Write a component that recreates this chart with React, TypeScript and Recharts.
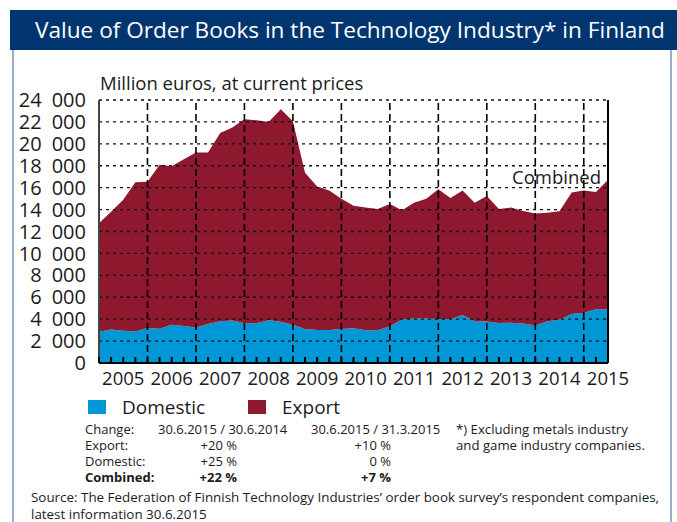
import { AreaChart, Area, XAxis, YAxis, ReferenceLine, Legend } from 'recharts';

const FONT = '"Open Sans", "Noto Sans", sans-serif';
const TEXT = '#1b1b1b';

// quarter-end observations, 31.12.2004 ... 30.6.2015
const quarterLabels = [
  '2004 Q4',
  '2005 Q1', '2005 Q2', '2005 Q3', '2005 Q4',
  '2006 Q1', '2006 Q2', '2006 Q3', '2006 Q4',
  '2007 Q1', '2007 Q2', '2007 Q3', '2007 Q4',
  '2008 Q1', '2008 Q2', '2008 Q3', '2008 Q4',
  '2009 Q1', '2009 Q2', '2009 Q3', '2009 Q4',
  '2010 Q1', '2010 Q2', '2010 Q3', '2010 Q4',
  '2011 Q1', '2011 Q2', '2011 Q3', '2011 Q4',
  '2012 Q1', '2012 Q2', '2012 Q3', '2012 Q4',
  '2013 Q1', '2013 Q2', '2013 Q3', '2013 Q4',
  '2014 Q1', '2014 Q2', '2014 Q3', '2014 Q4',
  '2015 Q1', '2015 Q2',
];

// million euros
const domesticValues = [
  2850,
  3050, 2950, 2880, 3200,
  3130, 3480, 3380, 3250,
  3550, 3800, 3880, 3620,
  3620, 3890, 3770, 3500,
  3110, 3010, 3010, 3100,
  3180, 2980, 2980, 3350,
  3960, 4050, 4050, 4020,
  3990, 4370, 3820, 3790,
  3640, 3680, 3600, 3420,
  3800, 3940, 4470, 4590,
  4900, 4900,
];

const exportValues = [
  9900,
  10750, 11950, 13620, 13350,
  14970, 14470, 15220, 15950,
  15650, 17200, 17620, 18630,
  18530, 18110, 19380, 18550,
  14240, 13090, 12740, 11900,
  11170, 11220, 11070, 11150,
  9990, 10580, 10930, 11830,
  11060, 11380, 10810, 11460,
  10410, 10500, 10280, 10220,
  9900, 9910, 11100, 11150,
  10700, 11800,
];

const yTicks = [0, 2000, 4000, 6000, 8000, 10000, 12000, 14000, 16000, 18000, 20000, 22000, 24000];

const series = [
  { key: 'domestic', name: 'Domestic', color: '#0097d7' },
  { key: 'export', name: 'Export', color: '#8e182e' },
];

const changeHeader = ['Change:', '30.6.2015 / 30.6.2014', '30.6.2015 / 31.3.2015'];
const changeRows = [
  { label: 'Export:', yearly: '+20 %', quarterly: '+10 %', bold: false },
  { label: 'Domestic:', yearly: '+25 %', quarterly: '0 %', bold: false },
  { label: 'Combined:', yearly: '+22 %', quarterly: '+7 %', bold: true },
];

const data = quarterLabels.map((label, i) => ({
  q: i,
  label,
  domestic: domesticValues[i],
  export: exportValues[i],
}));

const allQuarters = data.map(d => d.q);
const yearBoundaries = data.filter(d => d.label.endsWith('Q4') && d.q > 0).map(d => d.q);
const lastQuarter = allQuarters[allQuarters.length - 1];

// thousands separated by a wide space, as in the original
const formatY = (v: number) => (v === 0 ? '0' : `${v / 1000}\u2002000`);

// quarterly minor tick inside the plot + year label under mid-year
const QuarterTick = (props: any) => {
  const { x, y, payload } = props;
  const label: string = quarterLabels[payload.value] ?? '';
  const year = label.endsWith('Q2') ? label.slice(0, 4) : null;
  return (
    <g>
      <line x1={x} x2={x} y1={y} y2={y - 6} stroke="#000" strokeWidth={2} />
      {year && (
        <text x={x} y={y + 22} textAnchor="middle" fontSize={18.5} fill={TEXT} fontFamily={FONT}>
          {year}
        </text>
      )}
    </g>
  );
};

const LegendContent = () => (
  <div style={{ display: 'flex', fontFamily: FONT, fontSize: 19, color: TEXT }}>
    {series.map(s => (
      <div key={s.key} style={{ display: 'flex', alignItems: 'center', width: 160 }}>
        <span style={{ width: 18, height: 14, background: s.color, marginRight: 16 }} />
        <span>{s.name}</span>
      </div>
    ))}
  </div>
);

export default function App() {
  return (
    <div style={{ position: 'absolute', left: 0, top: 0, width: 677, height: 522, background: '#fff', fontFamily: FONT, color: TEXT }}>
      <div style={{ position: 'absolute', left: 10, top: 10, width: 667, height: 40, background: '#003570' }} />
      <div style={{ position: 'absolute', left: 35, top: 14, color: '#fff', fontSize: 22.6, whiteSpace: 'nowrap' }}>
        Value of Order Books in the Technology Industry* in Finland
      </div>
      <div style={{ position: 'absolute', left: 12, top: 50, width: 2, height: 472, background: '#9aadcb' }} />
      <div style={{ position: 'absolute', left: 670, top: 50, width: 2, height: 472, background: '#9aadcb' }} />

      <div style={{ position: 'absolute', left: 100, top: 70, fontSize: 18.5, whiteSpace: 'nowrap' }}>
        Million euros, at current prices
      </div>

      <div style={{ position: 'absolute', left: 0, top: 0 }}>
        <AreaChart width={677} height={522} data={data} margin={{ top: 100, right: 69, bottom: 129, left: 29 }}>
          <XAxis
            dataKey="q"
            type="number"
            domain={[0, lastQuarter]}
            ticks={allQuarters}
            interval={0}
            height={30}
            tickSize={0}
            tickMargin={0}
            tickLine={false}
            axisLine={{ stroke: '#000', strokeWidth: 2 }}
            tick={<QuarterTick />}
          />
          <YAxis
            type="number"
            domain={[0, 24000]}
            ticks={yTicks}
            interval={0}
            width={70}
            tickLine={false}
            tickMargin={7}
            tickFormatter={formatY}
            axisLine={{ stroke: '#444', strokeWidth: 2 }}
            tick={{ fontSize: 20, fill: TEXT, fontFamily: FONT }}
          />
          {series.map(s => (
            <Area
              key={s.key}
              type="linear"
              dataKey={s.key}
              name={s.name}
              stackId="total"
              stroke="none"
              fill={s.color}
              fillOpacity={1}
              isAnimationActive={false}
            />
          ))}
          {yTicks.filter(v => v > 0).map(v => (
            <ReferenceLine key={`h${v}`} y={v} stroke="#111" strokeWidth={1.4} strokeDasharray="3 4" />
          ))}
          {yearBoundaries.map(q => (
            <ReferenceLine key={`v${q}`} x={q} stroke="#000" strokeWidth={1.6} strokeDasharray="7 4" />
          ))}
          <ReferenceLine x={lastQuarter} stroke="#000" strokeWidth={2} />
          <Legend
            layout="horizontal"
            verticalAlign="middle"
            content={<LegendContent />}
            wrapperStyle={{ position: 'absolute', left: 88, top: 394, width: 400 }}
          />
        </AreaChart>
      </div>

      <div style={{ position: 'absolute', left: 512, top: 164, fontSize: 18.5, whiteSpace: 'nowrap' }}>Combined</div>

      <div style={{ position: 'absolute', left: 85, top: 421, fontSize: 13, lineHeight: '16px', whiteSpace: 'nowrap' }}>
        <div style={{ display: 'flex' }}>
          <span style={{ width: 73 }}>{changeHeader[0]}</span>
          <span style={{ width: 153 }}>{changeHeader[1]}</span>
          <span style={{ width: 145 }}>{changeHeader[2]}</span>
        </div>
        {changeRows.map(r => (
          <div key={r.label} style={{ display: 'flex', fontWeight: r.bold ? 700 : 400 }}>
            <span style={{ width: 73 }}>{r.label}</span>
            <span style={{ width: 79, textAlign: 'right' }}>{r.yearly}</span>
            <span style={{ width: 154, textAlign: 'right' }}>{r.quarterly}</span>
          </div>
        ))}
      </div>
      <div style={{ position: 'absolute', left: 456, top: 421, fontSize: 13.2, lineHeight: '16px', whiteSpace: 'nowrap' }}>
        <div>*) Excluding metals industry</div>
        <div>and game industry companies.</div>
      </div>

      <div style={{ position: 'absolute', left: 31, top: 489, fontSize: 13.4, lineHeight: '17px', whiteSpace: 'nowrap' }}>
        <div>Source: The Federation of Finnish Technology Industries’ order book survey’s respondent companies,</div>
        <div>latest information 30.6.2015</div>
      </div>
    </div>
  );
}
